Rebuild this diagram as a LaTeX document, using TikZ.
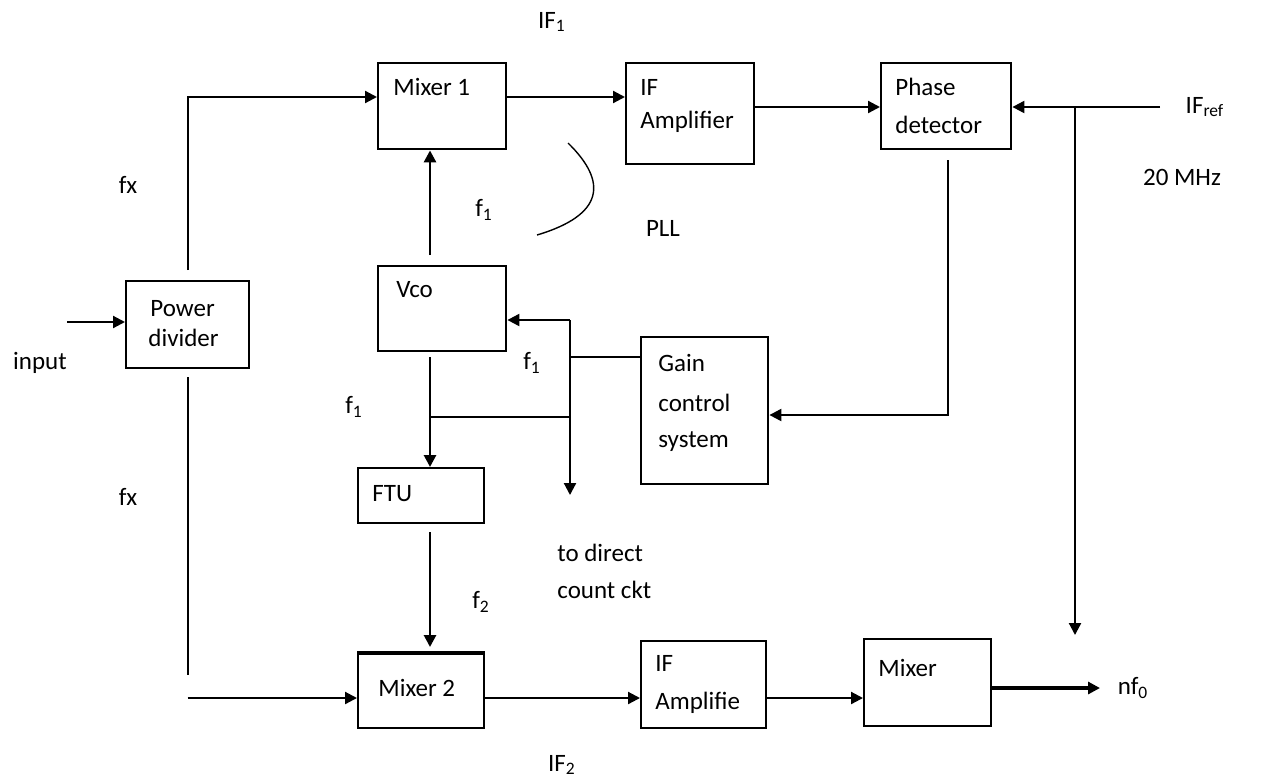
\documentclass[tikz,border=0pt]{standalone}
\usepackage{fontspec}
\setmainfont{Carlito}
\usetikzlibrary{arrows.meta,calc}
\begin{document}
\begin{tikzpicture}[x=0.5pt,y=-0.5pt,
  box/.style={draw,line width=1.2pt,inner sep=0pt,anchor=north west},
  txt/.style={anchor=west,inner sep=0pt,font=\fontsize{12.5}{14}\selectfont},
  lbl/.style={inner sep=0pt,font=\fontsize{12.5}{14}\selectfont},
  wire/.style={line width=1.1pt},
  arr/.style={wire,-{Triangle[length=6pt,width=6pt]}}]
\useasboundingbox (0,0) rectangle (1261,782);
% boxes
\node[box,minimum width=61.5pt,minimum height=43.5pt] (pd) at (125,280) {};
\node[box,minimum width=64pt,minimum height=43pt] (mix1) at (377,62) {};
\node[box,minimum width=64pt,minimum height=50.5pt] (ifa1) at (625,62) {};
\node[box,minimum width=65pt,minimum height=43pt] (phd) at (880,62) {};
\node[box,minimum width=64pt,minimum height=42.5pt] (vco) at (377,265) {};
\node[box,minimum width=63.5pt,minimum height=73.5pt] (gcs) at (640,336) {};
\node[box,minimum width=63pt,minimum height=27.5pt] (ftu) at (357,467) {};
\node[box,minimum width=63pt,minimum height=37pt] (mix2) at (357,653) {};
\node[box,minimum width=62.5pt,minimum height=43.5pt] (ifa2) at (640,640) {};
\node[box,minimum width=63.5pt,minimum height=43.5pt] (mixr) at (863,638) {};
\draw[line width=2.2pt] (mix2.north west) -- (mix2.north east);
% box texts
\node[txt] (tpd1) at (150,309) {Power};
\node[txt] (tpd2) at (148,338) {divider};
\node[txt] (tm1) at (393,87) {Mixer 1};
\node[txt] (ti1a) at (640,87) {IF};
\node[txt] (ti1b) at (640,122) {Amplifier};
\node[txt] (tph1) at (895,87) {Phase};
\node[txt] (tph2) at (895,125) {detector};
\node[txt] (tvco) at (396,290) {Vco};
\node[txt] (tg1) at (658,363) {Gain};
\node[txt] (tg2) at (658,403) {control};
\node[txt] (tg3) at (658,442) {system};
\node[txt] (tftu) at (372,494) {FTU};
\node[txt] (tm2) at (378,688) {Mixer 2};
\node[txt] (ti2a) at (655,663) {IF};
\node[txt] (ti2b) at (655,703) {Amplifie};
\node[txt] (tmx) at (878,668) {Mixer};
% free labels
\node[lbl] (lif1) at (552,22) {IF\textsubscript{1}};
\node[lbl] (lif2) at (562,765) {IF\textsubscript{2}};
\node[lbl] (lfx1) at (128,185) {fx};
\node[lbl] (lfx2) at (128,497) {fx};
\node[lbl] (lf1a) at (484,210) {f\textsubscript{1}};
\node[lbl] (lf1b) at (354,407) {f\textsubscript{1}};
\node[lbl] (lf1c) at (532,363) {f\textsubscript{1}};
\node[lbl] (lf2) at (481,602) {f\textsubscript{2}};
\node[lbl] (lpll) at (663,228) {PLL};
\node[lbl] (lref) at (1205,107) {IF\textsubscript{ref}};
\node[lbl] (lmhz) at (1182,177) {20 MHz};
\node[lbl] (linp) at (40,363) {input};
\node[txt] (ltd1) at (557,553) {to direct};
\node[txt] (ltd2) at (557,590) {count ckt};
\node[lbl] (lnf) at (1133,688) {nf\textsubscript{0}};
% coordinates
\coordinate (inp) at (67,322);
\coordinate (m1in) at (377,97);
\coordinate (pdin) at (880,107);
\coordinate (refin) at (1160,107);
\coordinate (vtop) at (1075,107);
\coordinate (vbot) at (1075,635);
\coordinate (pdo) at (948,160);
\coordinate (y415) at (0,415);
\coordinate (j1) at (570,357);
\coordinate (jt) at (570,320);
\coordinate (jb) at (570,495);
\coordinate (vn) at (430,255);
\coordinate (vs) at (430,357);
\coordinate (vj) at (430,417);
\coordinate (fs) at (430,532);
\coordinate (m2in) at (357,698);
\coordinate (y675) at (0,675);
\coordinate (mo) at (1100,688);
% connectors
\draw[arr] (inp) -- (inp -| pd.west);
\draw[arr] ($(pd.north)+(0,-10)$) |- (m1in);
\draw[wire] ($(pd.south)+(0,8)$) -- (pd.south |- y675);
\draw[arr] (m2in -| pd.south) -- (m2in);
\draw[arr] (m1in -| mix1.east) -- (m1in -| ifa1.west);
\draw[arr] (pdin -| ifa1.east) -- (pdin);
\draw[arr] (refin) -- (refin -| phd.east);
\draw[arr] (vtop) -- (vbot);
\draw[arr] (pdo) |- (gcs.east |- y415);
\draw[wire] (gcs.west |- j1) -- (j1);
\draw[arr] (jt) -- (jt -| vco.east);
\draw[arr] (jt) -- (jb);
\draw[arr,line width=1.4pt] (vn) -- (vn |- mix1.south);
\draw[arr,line width=1.4pt] (vs) -- (vs |- ftu.north);
\draw[wire] (vj) -- (vj -| jt);
\draw[arr,line width=1.4pt] (fs) -- ($(fs |- mix2.north)+(0,-6)$);
\draw[arr] (m2in -| mix2.east) -- (m2in -| ifa2.west);
\draw[arr] (m2in -| ifa2.east) -- (m2in -| mixr.west);
\draw[arr,line width=1.8pt] (mo -| mixr.east) -- (mo);
% PLL bracket
\draw[line width=0.7pt] (568,143) .. controls (608,182) and (604,215) .. (537,235);
\end{tikzpicture}
\end{document}
